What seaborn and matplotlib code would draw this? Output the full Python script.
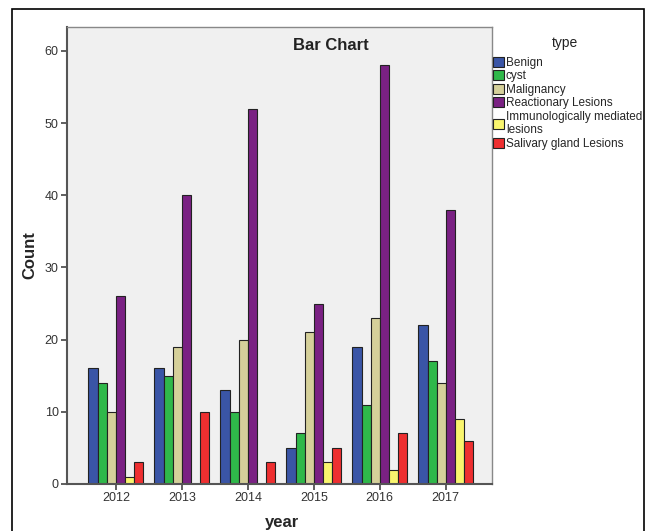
import matplotlib.pyplot as plt
import pandas as pd
import seaborn as sns
from matplotlib.patches import Rectangle

years = ["2012", "2013", "2014", "2015", "2016", "2017"]
types = ["Benign", "cyst", "Malignancy", "Reactionary Lesions",
         "Immunologically mediated\nlesions", "Salivary gland Lesions"]
benign = [16, 16, 13, 5, 19, 22]
cyst = [14, 15, 10, 7, 11, 17]
malignancy = [10, 19, 20, 21, 23, 14]
reactionary = [26, 40, 52, 25, 58, 38]
immuno = [1, 0, 0, 3, 2, 9]
salivary = [3, 10, 3, 5, 7, 6]
colors = ["#3a55a6", "#2fb84a", "#d5d09a", "#7a2183", "#f9f56e", "#ee2f30"]

series = [benign, cyst, malignancy, reactionary, immuno, salivary]
rows = []
for t, vals in zip(types, series):
    for y, v in zip(years, vals):
        rows.append({"year": y, "type": t, "Count": v})
df = pd.DataFrame(rows)

sns.set_style("white")
plt.rcParams["font.family"] = ["Liberation Sans", "DejaVu Sans"]

fig = plt.figure(figsize=(6.5, 5.31), dpi=100)
ax = fig.add_axes([67 / 650, 1 - 484 / 531, (492 - 67) / 650, (484 - 27) / 531])
ax.set_facecolor("#f0f0f0")

sns.barplot(data=df, x="year", y="Count", hue="type", hue_order=types,
            order=years, palette=colors, width=0.83, edgecolor="#222222",
            linewidth=0.8, saturation=1, ax=ax, legend=True)

ax.set_ylim(0, 63.3)
ax.set_xlim(-0.74, 5.70)
ax.set_yticks(range(0, 61, 10))
ax.tick_params(axis="both", labelsize=9, colors="#444444", length=4,
               width=1.2, direction="out", bottom=True, left=True, pad=2)
for lab in ax.get_xticklabels() + ax.get_yticklabels():
    lab.set_color("#333333")
ax.set_xlabel("year", fontsize=12, fontweight="bold")
ax.set_ylabel("Count", fontsize=12, fontweight="bold")
ax.xaxis.set_label_coords((282 - 67) / 425, (484 - 523) / 457)
ax.yaxis.set_label_coords((30 - 67) / 425, (484 - 255) / 457)
ax.xaxis.label.set_va("center")
ax.yaxis.label.set_va("center")

for side in ["left", "bottom"]:
    ax.spines[side].set_color("#555555")
    ax.spines[side].set_linewidth(1.5)
for side in ["top", "right"]:
    ax.spines[side].set_color("#888888")
    ax.spines[side].set_linewidth(1.0)

ax.text((331 - 67) / 425, (484 - 46) / 457, "Bar Chart", transform=ax.transAxes,
        ha="center", va="center", fontsize=12, fontweight="bold", color="#222222")

ax.legend(loc="upper left", bbox_to_anchor=(493 / 650, 1 - 57 / 531),
          bbox_transform=fig.transFigure, frameon=False, fontsize=8.5,
          handlelength=0.9, handleheight=0.9, handletextpad=0.2,
          labelspacing=0.12, borderaxespad=0, borderpad=0)
fig.text(565 / 650, 1 - 43 / 531, "type", ha="center", va="center",
         fontsize=10, color="#222222")

fig.patches.append(Rectangle((12 / 650, -0.01), (644 - 12) / 650, 1 - 9 / 531 + 0.01,
                             transform=fig.transFigure, fill=False,
                             edgecolor="black", linewidth=1.2))

fig.savefig("out.png", dpi=100)
